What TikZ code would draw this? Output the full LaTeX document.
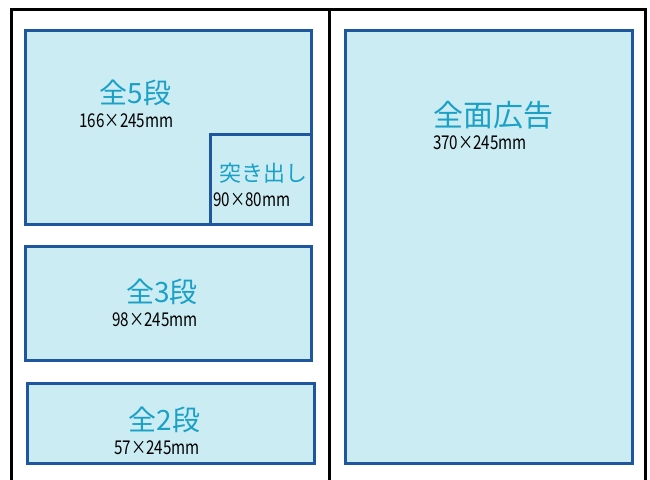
\documentclass[tikz,border=0pt]{standalone}
\usepackage{fontspec}
\setmainfont{Noto Sans CJK JP}
\newfontfamily\sizefont[FakeStretch=0.8]{Noto Sans CJK JP}
\usepackage{xcolor}
\usepackage{tikz}

\definecolor{adfill}{HTML}{CCECF3}
\definecolor{adline}{HTML}{1E56A0}
\definecolor{adtext}{HTML}{1BA1C6}

\tikzset{
    adbox/.style={draw=adline, fill=adfill, line width=3pt, inner sep=0pt},
    adtitle/.style={text=adtext, inner sep=0pt, font=\fontsize{28}{28}\selectfont},
    adsize/.style={text=black, inner sep=0pt, font=\sizefont\fontsize{19}{19}\selectfont},
    frame/.style={draw=black, line width=3pt}
}

\begin{document}
\begin{tikzpicture}[x=1pt, y=-1pt]
    \useasboundingbox (0,0) rectangle (650,479);
    % page frame
    \coordinate (fl) at (11,482);
    \coordinate (ftl) at (11,9);
    \coordinate (ftr) at (645,9);
    \coordinate (fr) at (645,482);
    \coordinate (mt) at (329,9);
    \coordinate (mb) at (329,482);
    \draw[frame] (fl) -- (ftl) -- (ftr) -- (fr);
    \draw[frame] (mt) -- (mb);

    % boxes
    \node[adbox, minimum width=286, minimum height=194] at (168,127) (zen5) {};
    \node[adbox, minimum width=101, minimum height=90, anchor=south east] at (zen5.south east) (tsuki) {};
    \node[adbox, minimum width=286, minimum height=114] at (168,303) (zen3) {};
    \node[adbox, minimum width=287, minimum height=80] at (171,423) (zen2) {};
    \node[adbox, minimum width=287, minimum height=433] at (488.5,246.5) (zenmen) {};

    % labels
    \node[adtitle] at (135.5,92.5) (t5) {全5段};
    \node[adsize] at (126.5,121) (s5) {166×245mm};
    \node[adtitle, font=\fontsize{22}{22}\selectfont] at (263,173.5) (tt) {突き出し};
    \node[adsize] at (252,199.5) (st) {90×80mm};
    \node[adtitle] at (162,292) (t3) {全3段};
    \node[adsize] at (155,320) (s3) {98×245mm};
    \node[adtitle] at (164.5,419.5) (t2) {全2段};
    \node[adsize] at (157,448) (s2) {57×245mm};
    \node[adtitle, font=\fontsize{30}{30}\selectfont] at (493,115) (tm) {全面広告};
    \node[adsize] at (480,143) (sm) {370×245mm};
\end{tikzpicture}
\end{document}
